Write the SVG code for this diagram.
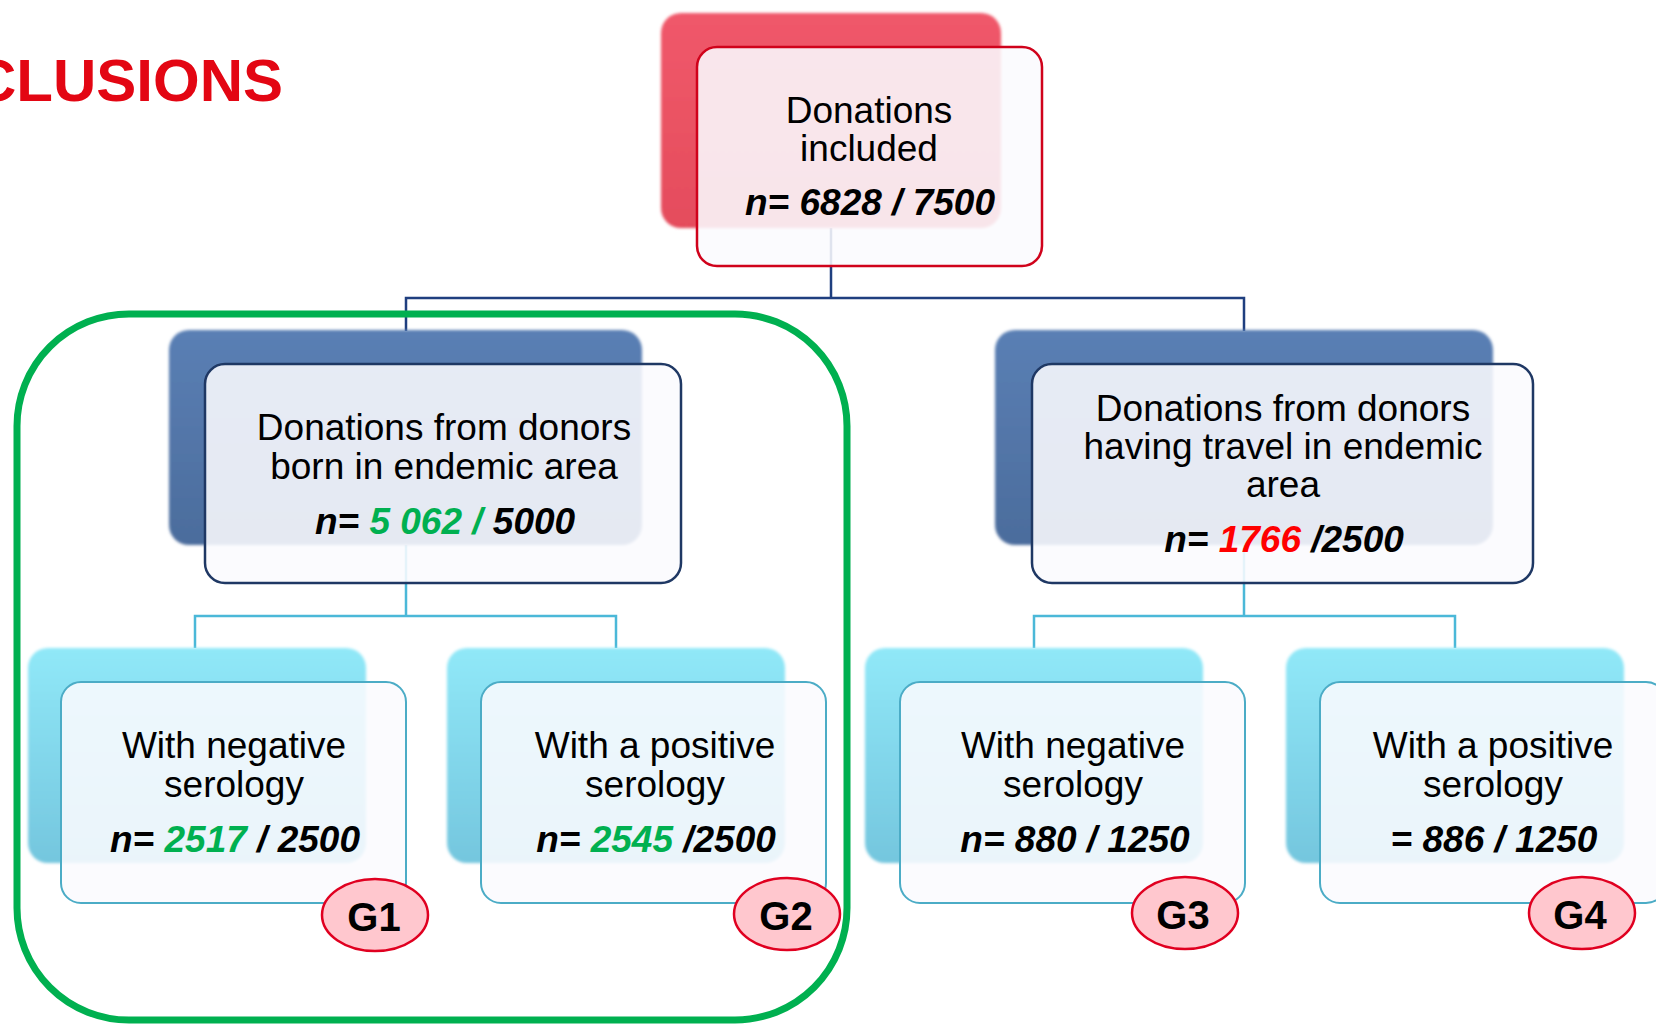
<svg xmlns="http://www.w3.org/2000/svg" width="1656" height="1024" viewBox="0 0 1656 1024">
<defs>
<linearGradient id="gRed" x1="0" y1="0" x2="0" y2="1"><stop offset="0" stop-color="#F0586A"/><stop offset="1" stop-color="#E44C5C"/></linearGradient>
<linearGradient id="gNavy" x1="0" y1="0" x2="0" y2="1"><stop offset="0" stop-color="#5A7FB4"/><stop offset="1" stop-color="#4B6C9C"/></linearGradient>
<linearGradient id="gCyan" x1="0" y1="0" x2="0" y2="1"><stop offset="0" stop-color="#90E8F8"/><stop offset="1" stop-color="#74C6DE"/></linearGradient>
<filter id="soft" x="-5%" y="-5%" width="110%" height="110%"><feGaussianBlur stdDeviation="1.5"/></filter>
<style>
.back{filter:url(#soft)}
.front{fill:#FBFAFE;fill-opacity:0.88;stroke-width:2.5}
.fr{stroke:#D0021B}
.fn{stroke:#1F3864}
.fc{stroke:#4BACC6;stroke-width:2}
.t{font-family:"Liberation Sans",Arial,sans-serif;font-size:37px;fill:#000;text-anchor:middle}
.n{font-weight:bold;font-style:italic}
.g{fill:#00B050}
.r{fill:#FF0000}
.badge{fill:#FFC7CE;stroke:#E00020;stroke-width:2.5}
.bt{font-family:"Liberation Sans",Arial,sans-serif;font-size:40px;font-weight:bold;fill:#000;text-anchor:middle}
.cn{fill:none;stroke:#1F3F7F;stroke-width:2.5}
.cc{fill:none;stroke:#4BB8D8;stroke-width:2.5}
</style>
</defs>
<rect width="1656" height="1024" fill="#FFFFFF"/>
<text x="283" y="101" font-family="Liberation Sans,Arial,sans-serif" font-size="60" font-weight="bold" fill="#E30613" text-anchor="end">CLUSIONS</text>
<g id="connectors">
<path class="cn" d="M831 228 V298 M406 331 V298 H1244 V331"/>
<path class="cc" d="M406 545 V616 M195 648 V616 H616 V648"/>
<path class="cc" d="M1244 545 V616 M1034 648 V616 H1455 V648"/>
</g>
<g id="top">
<rect class="back" x="661" y="13" width="340" height="215" rx="20" fill="url(#gRed)"/>
<rect class="front fr" x="697" y="47" width="345" height="219" rx="20"/>
<text class="t" x="869" y="123">Donations</text>
<text class="t" x="869" y="161">included</text>
<text class="t n" x="870" y="215">n= 6828 / 7500</text>
</g>
<g id="born">
<rect class="back" x="169" y="330" width="473" height="215" rx="20" fill="url(#gNavy)"/>
<rect class="front fn" x="205" y="364" width="476" height="219" rx="20"/>
<text class="t" x="444" y="440">Donations from donors</text>
<text class="t" x="444" y="479">born in endemic area</text>
<text class="t n" x="445" y="534">n= <tspan class="g">5 062 /</tspan> 5000</text>
</g>
<g id="travel">
<rect class="back" x="995" y="330" width="498" height="215" rx="20" fill="url(#gNavy)"/>
<rect class="front fn" x="1032" y="364" width="501" height="219" rx="20"/>
<text class="t" x="1283" y="421">Donations from donors</text>
<text class="t" x="1283" y="459">having travel in endemic</text>
<text class="t" x="1283" y="497">area</text>
<text class="t n" x="1284" y="552">n= <tspan class="r">1766</tspan> /2500</text>
</g>
<g id="g1">
<rect class="back" x="28" y="648" width="338" height="215" rx="20" fill="url(#gCyan)"/>
<rect class="front fc" x="61" y="682" width="345" height="221" rx="20"/>
<text class="t" x="234" y="758">With negative</text>
<text class="t" x="234" y="797">serology</text>
<text class="t n" x="235" y="852">n= <tspan class="g">2517</tspan> / 2500</text>
<ellipse class="badge" cx="375" cy="915" rx="53" ry="36"/>
<text class="bt" x="374" y="931">G1</text>
</g>
<g id="g2">
<rect class="back" x="447" y="648" width="338" height="215" rx="20" fill="url(#gCyan)"/>
<rect class="front fc" x="481" y="682" width="345" height="221" rx="20"/>
<text class="t" x="655" y="758">With a positive</text>
<text class="t" x="655" y="797">serology</text>
<text class="t n" x="656" y="852">n= <tspan class="g">2545</tspan> /2500</text>
<ellipse class="badge" cx="787" cy="914" rx="53" ry="36"/>
<text class="bt" x="786" y="930">G2</text>
</g>
<g id="g3">
<rect class="back" x="865" y="648" width="338" height="215" rx="20" fill="url(#gCyan)"/>
<rect class="front fc" x="900" y="682" width="345" height="221" rx="20"/>
<text class="t" x="1073" y="758">With negative</text>
<text class="t" x="1073" y="797">serology</text>
<text class="t n" x="1075" y="852">n= 880 / 1250</text>
<ellipse class="badge" cx="1185" cy="913" rx="53" ry="36"/>
<text class="bt" x="1183" y="929">G3</text>
</g>
<g id="g4">
<rect class="back" x="1286" y="648" width="338" height="215" rx="20" fill="url(#gCyan)"/>
<rect class="front fc" x="1320" y="682" width="346" height="221" rx="20"/>
<text class="t" x="1493" y="758">With a positive</text>
<text class="t" x="1493" y="797">serology</text>
<text class="t n" x="1494" y="852">= 886 / 1250</text>
<ellipse class="badge" cx="1582" cy="913" rx="53" ry="36"/>
<text class="bt" x="1580" y="929">G4</text>
</g>
<g id="group-frame">
<rect x="17" y="314" width="830" height="706" rx="112" fill="none" stroke="#00B050" stroke-width="7"/>
</g>
</svg>
